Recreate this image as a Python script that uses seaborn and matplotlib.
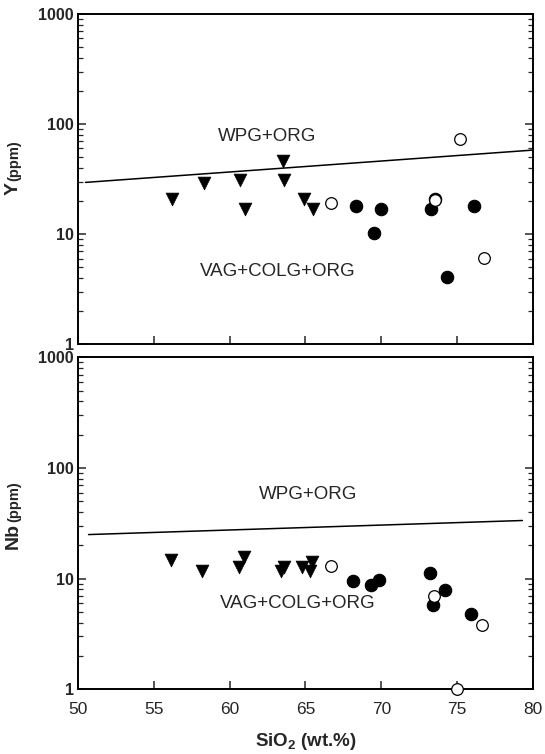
import matplotlib
matplotlib.use("Agg")
import matplotlib.pyplot as plt
import matplotlib.ticker as mticker
import numpy as np
import pandas as pd
import seaborn as sns

sns.set_theme(style="white")
plt.rcParams["font.family"] = ["Liberation Sans", "DejaVu Sans"]
plt.rcParams["mathtext.fontset"] = "custom"
plt.rcParams["mathtext.rm"] = "Liberation Sans"
plt.rcParams["mathtext.bf"] = "Liberation Sans:bold"

# --- Y (ppm) vs SiO2 ---
y_tri_sio2 = [56.2, 58.3, 60.7, 61.0, 63.5, 63.6, 64.9, 65.5]
y_tri_val = [21, 29, 31, 17, 46, 31, 21, 17]
y_fill_sio2 = [68.3, 69.5, 70.0, 73.3, 73.55, 74.3, 76.1]
y_fill_val = [18, 10.2, 17, 17, 21, 4.1, 18]
y_open_sio2 = [66.7, 73.55, 75.2, 76.8]
y_open_val = [19, 20.3, 73, 6.1]
y_bound_sio2 = [50.5, 80.0]
y_bound_val = [29.5, 58]

# --- Nb (ppm) vs SiO2 ---
nb_tri_sio2 = [56.15, 58.2, 60.6, 60.95, 63.4, 63.6, 64.8, 65.3, 65.4]
nb_tri_val = [14.8, 11.6, 12.8, 15.8, 11.8, 12.6, 12.8, 11.6, 14.0]
nb_fill_sio2 = [68.15, 69.3, 69.85, 73.2, 73.4, 74.2, 75.9]
nb_fill_val = [9.5, 8.8, 9.8, 11.3, 5.8, 7.9, 4.8]
nb_open_sio2 = [66.65, 73.45, 75.0, 76.65]
nb_open_val = [13, 6.9, 1.0, 3.8]
nb_bound_sio2 = [50.7, 79.3]
nb_bound_val = [25, 33.5]

x_ticks = [50, 55, 60, 65, 70, 75, 80]
y_ticks = [1, 10, 100, 1000]
field_upper = "WPG+ORG"
field_lower = "VAG+COLG+ORG"

fig = plt.figure(figsize=(5.45, 7.54), dpi=100)
ax_top = fig.add_axes([0.143, 0.5435, 0.835, 0.4380])
ax_bot = fig.add_axes([0.143, 0.0860, 0.835, 0.4400])


def draw_panel(ax, tri_x, tri_y, fill_x, fill_y, open_x, open_y, bx, by):
    sns.lineplot(x=bx, y=by, ax=ax, color="black", linewidth=1.1, zorder=2)
    sns.scatterplot(x=tri_x, y=tri_y, ax=ax, marker="v", s=85,
                    color="black", edgecolor="black", linewidth=0.5, zorder=3)
    sns.scatterplot(x=fill_x, y=fill_y, ax=ax, marker="o", s=80,
                    color="black", edgecolor="black", linewidth=0.8, zorder=3)
    sns.scatterplot(x=open_x, y=open_y, ax=ax, marker="o", s=70,
                    color="white", edgecolor="black", linewidth=0.9, zorder=4)
    for coll in ax.collections:
        coll.set_clip_on(False)
    ax.set_yscale("log")
    ax.set_xlim(50, 80)
    ax.set_ylim(1, 1000)
    ax.set_xticks(x_ticks)
    ax.set_yticks(y_ticks)
    ax.yaxis.set_major_formatter(mticker.FuncFormatter(lambda v, p: f"{int(round(v))}"))
    ax.yaxis.set_minor_locator(mticker.LogLocator(base=10, subs=np.arange(2, 10)))
    ax.yaxis.set_minor_formatter(mticker.NullFormatter())
    ax.tick_params(axis="y", which="major", direction="in", length=6, width=1.1,
                   left=True, right=True, labelsize=11.5, pad=3)
    ax.tick_params(axis="y", which="minor", direction="in", length=3.5, width=0.9,
                   left=True, right=True)
    ax.tick_params(axis="x", which="major", direction="in", length=6, width=1.1,
                   bottom=True, top=False, labelsize=12.5, pad=9)
    for lab in ax.get_yticklabels():
        lab.set_fontweight("bold")
    for sp in ax.spines.values():
        sp.set_linewidth(1.4)
        sp.set_color("black")
    ax.set_xlabel("")
    ax.set_ylabel("")


draw_panel(ax_top, y_tri_sio2, y_tri_val, y_fill_sio2, y_fill_val,
           y_open_sio2, y_open_val, y_bound_sio2, y_bound_val)
draw_panel(ax_bot, nb_tri_sio2, nb_tri_val, nb_fill_sio2, nb_fill_val,
           nb_open_sio2, nb_open_val, nb_bound_sio2, nb_bound_val)
ax_top.tick_params(axis="x", labelbottom=False)

# field names
ax_top.text(62.5, 77, field_upper, ha="center", va="center", fontsize=13.5)
ax_top.text(63.2, 4.6, field_lower, ha="center", va="center", fontsize=13.5)
ax_bot.text(65.2, 58, field_upper, ha="center", va="center", fontsize=13.5)
ax_bot.text(64.5, 5.9, field_lower, ha="center", va="center", fontsize=13.5)

# axis titles: element symbol large, unit smaller
for ax, elem, ymid in ((ax_top, "Y", 0.49), (ax_bot, "Nb", 0.50)):
    ax.text(-0.142, ymid, elem, transform=ax.transAxes, rotation=90,
            ha="center", va="top", fontsize=14, fontweight="bold")
    ax.text(-0.140, ymid + 0.005, "(ppm)", transform=ax.transAxes, rotation=90,
            ha="center", va="bottom", fontsize=10.5, fontweight="bold")

fig.text(0.5605, 0.016, r"$\mathbf{SiO_2}$ (wt.%)", ha="center", va="center",
         fontsize=13.5, fontweight="bold")

fig.savefig("out.png", dpi=100)
